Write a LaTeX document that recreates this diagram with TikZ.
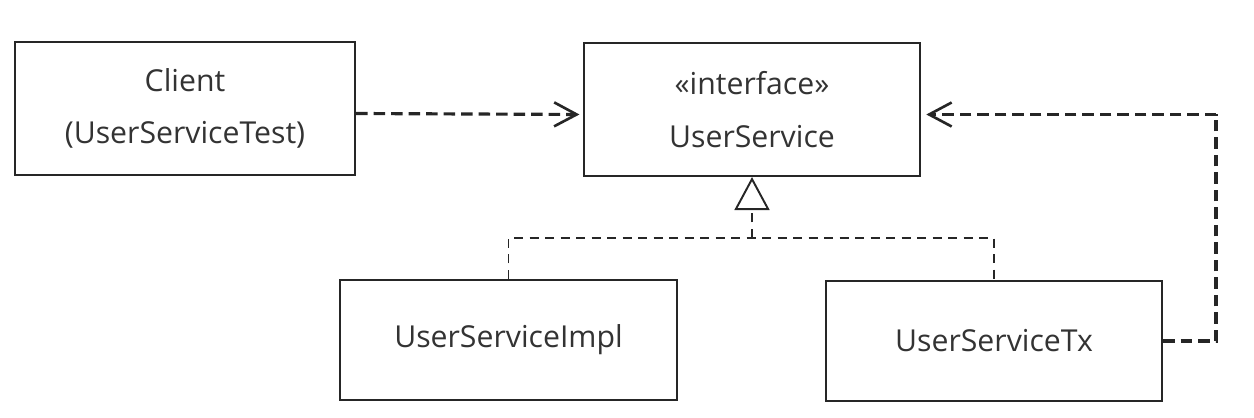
\documentclass[tikz,border=0pt]{standalone}
\usepackage{fontspec}
\setmainfont{Open Sans}
\usetikzlibrary{arrows.meta}

\tikzset{
    classbox/.style={draw=black!85, line width=1.2pt, text=black!80, align=center,
        font=\fontsize{17.2}{30}\selectfont},
    depend/.style={draw=black!85, line width=1.8pt, dash pattern=on 0.23cm off 0.12cm},
    realize/.style={draw=black!85, line width=1.1pt, dash pattern=on 0.18cm off 0.13cm}
}

\begin{document}
\begin{tikzpicture}
    \useasboundingbox (0,0) rectangle (25.08,8.34);

    % Nodes
    \node[classbox, minimum width=6.8cm, minimum height=2.66cm] (Client) at (3.70,6.17) {Client\\(UserServiceTest)};
    \node[classbox, minimum width=6.72cm, minimum height=2.66cm] (US) at (15.04,6.15) {«interface»\\UserService};
    \node[classbox, minimum width=6.74cm, minimum height=2.4cm] (Impl) at (10.17,1.54) {UserServiceImpl};
    \node[classbox, minimum width=6.72cm, minimum height=2.4cm] (Tx) at (19.88,1.52) {UserServiceTx};

    \coordinate (j) at (15.04,3.58);
    \coordinate (bend) at (24.32,6.06);

    % Lines
    \draw[depend, -{Straight Barb[length=4.5mm, width=4.8mm, line width=1.5pt]}, shorten >=2pt] ([yshift=-0.1cm]Client.east) -- ([yshift=-0.1cm]US.west);
    \draw[realize] (Impl.north) |- (j) -| (Tx.north);
    \draw[realize, -{Triangle[open, length=6.6mm, width=7mm, line width=1.1pt]}] (j) -- (US.south);
    \draw[depend, -{Straight Barb[length=4.5mm, width=4.8mm, line width=1.5pt]}, shorten >=3pt] (Tx.east) -| (bend) |- ([yshift=-0.1cm]US.east);

\end{tikzpicture}
\end{document}
